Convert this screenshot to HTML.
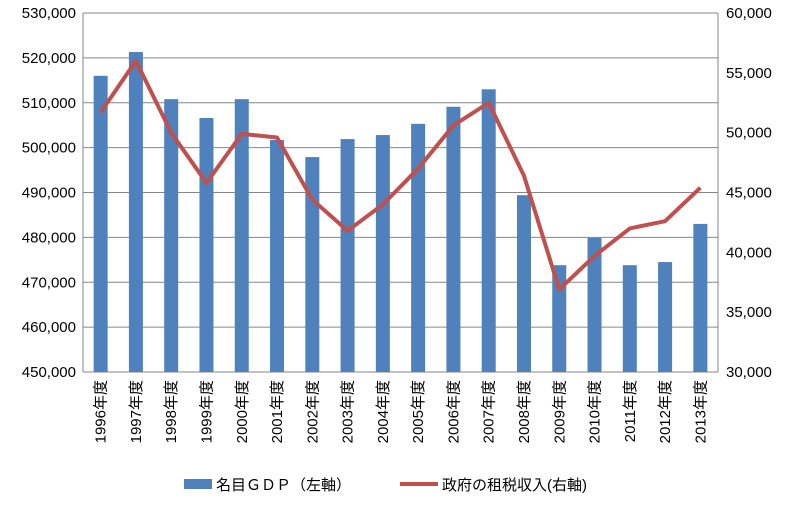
<!DOCTYPE html>
<html><head><meta charset="utf-8"><style>
body{margin:0;background:#fff;}
svg text{font-family:"Liberation Sans","Noto Sans CJK JP",sans-serif;fill:#000;}
</style></head><body>
<svg id="chart" width="796" height="500" xmlns="http://www.w3.org/2000/svg">
<g id="grid"></g>
<g id="bars"></g>
<g id="line"></g>
<g id="axes"></g>
<g>
<rect x="184" y="479" width="28" height="10" fill="#4f81bd"/>
<text x="216" y="490" font-size="15">名目ＧＤＰ（左軸）</text>
<line x1="400" y1="484" x2="438" y2="484" stroke="#c0504d" stroke-width="4"/>
<text x="442" y="490" font-size="15">政府の租税収入(右軸)</text>
</g>
</svg>
<script>
const categories=["1996年度","1997年度","1998年度","1999年度","2000年度","2001年度","2002年度","2003年度","2004年度","2005年度","2006年度","2007年度","2008年度","2009年度","2010年度","2011年度","2012年度","2013年度"];
const gdpValues=[516000,521300,510800,506600,510800,501700,497900,501900,502800,505300,509100,513000,489400,473800,479900,473800,474500,483000];
const taxValues=[51700,56000,50000,45800,49900,49600,44400,41800,44000,47000,50600,52500,46400,36900,39700,42000,42600,45400];
const leftTicks=[450000,460000,470000,480000,490000,500000,510000,520000,530000];
const rightTicks=[30000,35000,40000,45000,50000,55000,60000];
const L=83,R=718,T=13,B=372;
const yL=v=>B-(v-450000)/80000*(B-T);
const yR=v=>B-(v-30000)/30000*(B-T);
const bw=(R-L)/categories.length;
const xC=i=>L+bw*(i+0.5);
const NS="http://www.w3.org/2000/svg";
function mk(p,t,a){const e=document.createElementNS(NS,t);for(const k in a)e.setAttribute(k,a[k]);p.appendChild(e);return e;}
const fmt=v=>v.toLocaleString("en-US");
const grid=document.getElementById("grid"),axes=document.getElementById("axes");
leftTicks.forEach(v=>{
 const l=mk(grid,"line",{x1:L,x2:R,y1:yL(v),y2:yL(v),stroke:"#868686","stroke-width":1});
 
 
 const t=mk(axes,"text",{x:L-7,y:yL(v)+5,"text-anchor":"end","font-size":15});
 t.textContent=fmt(v);
 
 
});
rightTicks.forEach(v=>{
 const t=mk(axes,"text",{x:R+8,y:yR(v)+5,"font-size":15});
 t.textContent=fmt(v);
 
 
});
const la=mk(axes,"line",{x1:L,x2:L,y1:T,y2:B,stroke:"#868686"});


const ra=mk(axes,"line",{x1:R,x2:R,y1:T,y2:B,stroke:"#868686"});


const bars=document.getElementById("bars");
gdpValues.forEach((v,i)=>{
 const r=mk(bars,"rect",{x:xC(i)-7,y:yL(v),width:14,height:B-yL(v),fill:"#4f81bd"});
 
 
});
categories.forEach((c,i)=>{
 const t=mk(axes,"text",{x:0,y:0,"text-anchor":"end","font-size":15,transform:`translate(${xC(i)+5},380) rotate(-90)`});
 t.textContent=c;
 
 
});
const pts=taxValues.map((v,i)=>xC(i)+","+yR(v)).join(" ");
const pl=mk(document.getElementById("line"),"polyline",{points:pts,fill:"none",stroke:"#c0504d","stroke-width":4,"stroke-linejoin":"round"});


</script>
</body></html>
